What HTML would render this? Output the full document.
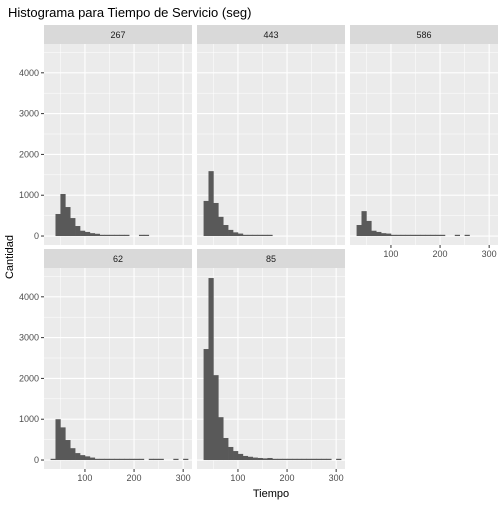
<!DOCTYPE html>
<html><head><meta charset="utf-8"><style>
body{margin:0;background:#fff;}
svg text{font-family:"Liberation Sans",sans-serif;}
</style></head><body>
<svg id="c" width="504" height="504" xmlns="http://www.w3.org/2000/svg"></svg>
<script>
const panelNames = ["267","443","586","62","85"];
const binStarts = [30,40,50,60,70,80,90,100,110,120,130,140,150,160,170,180,190,200,210,220,230,240,250,260,270,280,290,300];
const counts267 = [0,540,1030,710,440,245,130,100,70,55,30,30,30,30,30,30,0,0,30,30,0,0,0,0,0,0,0,0];
const counts443 = [860,1590,810,470,270,150,90,60,30,30,30,30,30,30,0,0,0,0,0,0,0,0,0,0,0,0,0,0];
const counts586 = [270,610,370,130,100,70,60,30,30,30,30,30,30,30,30,30,30,30,0,0,30,0,30,0,0,0,0,0];
const counts62 = [30,1000,800,490,290,170,120,90,60,30,30,30,30,30,30,30,30,30,30,0,30,30,30,0,0,30,0,30];
const counts85 = [2720,4460,2080,1050,540,320,220,150,100,80,60,50,40,50,30,30,30,30,30,30,30,30,30,30,30,30,0,30];
const allCounts = [counts267,counts443,counts586,counts62,counts85];
const yTicks = [0,1000,2000,3000,4000];
const xTicks = [100,200,300];
const binWidth = 10;

const NS="http://www.w3.org/2000/svg";
const svg=document.getElementById('c');
function mk(t,a,p){const e=document.createElementNS(NS,t);for(const k in a)e.setAttribute(k,a[k]);(p||svg).appendChild(e);return e;}
const xMin=16.6,xMax=318,yMin=-220,yMax=4706,pw=148,ph=201;
const lefts=[44,197,350,44,197], tops=[44,44,44,268,268];
function sx(v,l){return l+(v-xMin)/(xMax-xMin)*pw;}
function sy(v,t){return t+ph-(v-yMin)/(yMax-yMin)*ph;}

let title=mk('text',{x:8,y:17,'font-size':13,fill:'#000'});
title.textContent='Histograma para Tiempo de Servicio (seg)';



panelNames.forEach((nm,i)=>{
  const l=lefts[i],t=tops[i];
  const g=mk('g',{});
  
  
  const strip=mk('rect',{x:l,y:t-19,width:pw,height:19,fill:'#D9D9D9'},g);
  
  
  const st=mk('text',{x:l+pw/2,y:t-6,'font-size':9,'text-anchor':'middle',fill:'#1A1A1A'},g);
  st.textContent=nm;
  
  
  mk('rect',{x:l,y:t,width:pw,height:ph,fill:'#EBEBEB'},g);
  for(let v=500;v<yMax;v+=1000) mk('line',{x1:l,x2:l+pw,y1:sy(v,t),y2:sy(v,t),stroke:'#fff','stroke-width':0.5},g);
  [50,150,250].forEach(v=>mk('line',{x1:sx(v,l),x2:sx(v,l),y1:t,y2:t+ph,stroke:'#fff','stroke-width':0.5},g));
  yTicks.forEach(v=>mk('line',{x1:l,x2:l+pw,y1:sy(v,t),y2:sy(v,t),stroke:'#fff','stroke-width':1.1},g));
  xTicks.forEach(v=>mk('line',{x1:sx(v,l),x2:sx(v,l),y1:t,y2:t+ph,stroke:'#fff','stroke-width':1.1},g));
  allCounts[i].forEach((c,j)=>{
    if(c<=0)return;
    const x0=sx(binStarts[j],l),x1=sx(binStarts[j]+binWidth,l);
    const r=mk('rect',{x:x0,y:sy(c,t),width:x1-x0+0.3,height:sy(0,t)-sy(c,t),fill:'#595959'},g);
    
    
  });
  if(l===44){
    yTicks.forEach(v=>{
      mk('line',{x1:l-3,x2:l,y1:sy(v,t),y2:sy(v,t),stroke:'#333','stroke-width':1},g);
      const tx=mk('text',{x:l-5,y:sy(v,t)+3,'font-size':9,'text-anchor':'end',fill:'#4D4D4D'},g);
      tx.textContent=v;
      
      
    });
  }
  if(i>=2){
    xTicks.forEach(v=>{
      mk('line',{x1:sx(v,l),x2:sx(v,l),y1:t+ph,y2:t+ph+3,stroke:'#333','stroke-width':1},g);
      const tx=mk('text',{x:sx(v,l),y:t+ph+12,'font-size':9,'text-anchor':'middle',fill:'#4D4D4D'},g);
      tx.textContent=v;
      
      
    });
  }
});
let xt=mk('text',{x:271,y:497,'font-size':11,'text-anchor':'middle',fill:'#000'});
xt.textContent='Tiempo';


let yt=mk('text',{x:13,y:257,'font-size':11,'text-anchor':'middle',fill:'#000',transform:'rotate(-90 13 257)'});
yt.textContent='Cantidad';


</script>
</body></html>
